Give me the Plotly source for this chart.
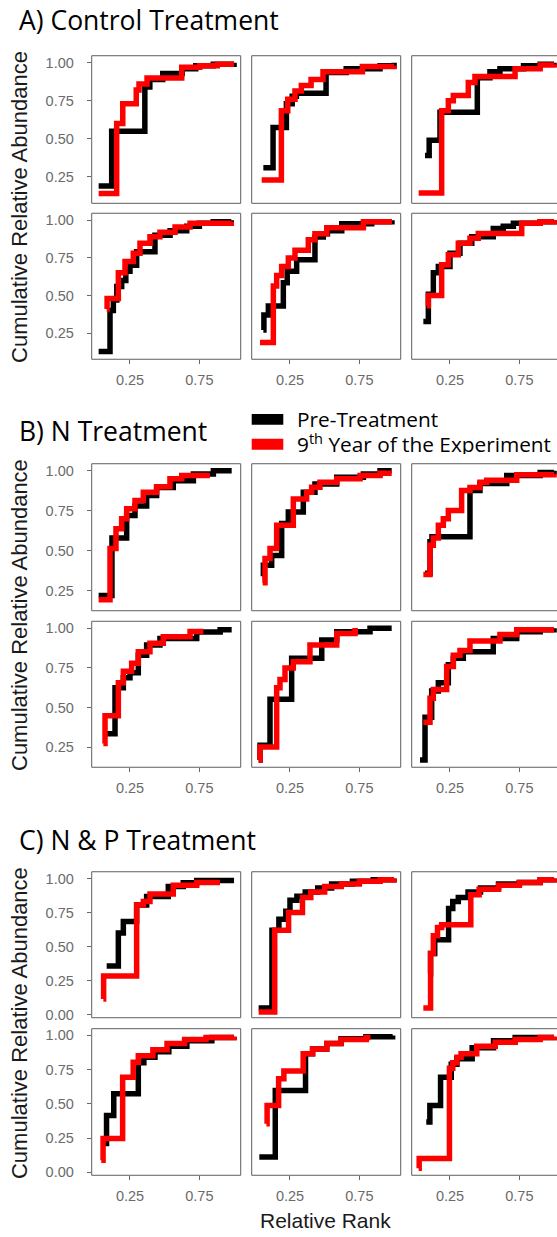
import plotly.graph_objects as go

# ---------------- data (relative rank, cumulative relative abundance) ----------------
# Section A: Control
ctrl_pre_rank = [
    [0.024, 0.118, 0.357, 0.393, 0.486, 0.626, 0.724, 0.85, 1.0],
    [0.058, 0.128, 0.224, 0.266, 0.296, 0.51, 0.655, 0.899, 1.0],
    [0.07, 0.10, 0.178, 0.447, 0.538, 0.61, 0.78, 0.90, 1.0],
    [0.024, 0.106, 0.13, 0.155, 0.19, 0.22, 0.25, 0.298, 0.43, 0.539, 0.659, 0.75, 0.85, 0.98],
    [0.058, 0.062, 0.094, 0.202, 0.23, 0.298, 0.43, 0.49, 0.52, 0.623, 0.839, 0.985],
    [0.058, 0.094, 0.13, 0.166, 0.25, 0.322, 0.407, 0.562, 0.634, 0.707, 0.90, 1.0],
]
ctrl_pre_cum = [
    [0.19, 0.55, 0.84, 0.89, 0.93, 0.96, 0.98, 0.99, 1.0],
    [0.31, 0.575, 0.73, 0.78, 0.80, 0.935, 0.96, 0.98, 1.0],
    [0.39, 0.49, 0.674, 0.902, 0.94, 0.96, 0.98, 0.99, 1.0],
    [0.127, 0.40, 0.47, 0.56, 0.60, 0.66, 0.70, 0.79, 0.90, 0.93, 0.96, 0.98, 0.99, 1.0],
    [0.27, 0.37, 0.43, 0.585, 0.66, 0.737, 0.889, 0.91, 0.93, 0.977, 0.99, 1.0],
    [0.327, 0.508, 0.65, 0.693, 0.78, 0.846, 0.89, 0.944, 0.96, 0.98, 0.99, 1.0],
]
ctrl_post_rank = [
    [0.024, 0.154, 0.198, 0.295, 0.315, 0.373, 0.623, 0.753, 0.879, 1.0],
    [0.046, 0.188, 0.234, 0.286, 0.332, 0.402, 0.488, 0.772, 1.0],
    [0.024, 0.19, 0.238, 0.274, 0.382, 0.43, 0.719, 0.90, 1.0],
    [0.082, 0.085, 0.166, 0.214, 0.274, 0.322, 0.394, 0.466, 0.575, 0.683, 0.98],
    [0.034, 0.13, 0.154, 0.19, 0.238, 0.286, 0.382, 0.43, 0.515, 0.779, 0.985],
    [0.082, 0.094, 0.19, 0.238, 0.31, 0.394, 0.454, 0.767, 0.90, 1.0],
]
ctrl_post_cum = [
    [0.14, 0.60, 0.73, 0.82, 0.86, 0.90, 0.97, 0.98, 0.99, 0.99],
    [0.23, 0.685, 0.76, 0.815, 0.85, 0.89, 0.94, 0.975, 0.98],
    [0.144, 0.685, 0.75, 0.785, 0.87, 0.91, 0.96, 0.985, 0.99],
    [0.41, 0.48, 0.65, 0.726, 0.78, 0.846, 0.89, 0.92, 0.955, 0.98, 0.99],
    [0.188, 0.562, 0.632, 0.693, 0.748, 0.80, 0.87, 0.91, 0.95, 0.99, 0.99],
    [0.432, 0.50, 0.704, 0.77, 0.846, 0.88, 0.911, 0.98, 0.99, 1.0],
]

# Section B: N
n_pre_rank = [
    [0.024, 0.12, 0.226, 0.286, 0.37, 0.442, 0.562, 0.707, 0.851, 0.983],
    [0.053, 0.058, 0.118, 0.19, 0.238, 0.346, 0.43, 0.587, 0.779, 0.899, 0.983],
    [0.07, 0.106, 0.12, 0.394, 0.466, 0.659, 0.90, 1.0],
    [0.058, 0.142, 0.202, 0.25, 0.31, 0.37, 0.466, 0.731, 0.90, 0.983],
    [0.024, 0.034, 0.106, 0.262, 0.479, 0.587, 0.827, 0.983],
    [0.034, 0.07, 0.118, 0.166, 0.238, 0.274, 0.346, 0.562, 0.731, 0.90, 1.0],
]
n_pre_cum = [
    [0.22, 0.58, 0.72, 0.78, 0.845, 0.895, 0.937, 0.98, 1.0, 1.0],
    [0.34, 0.41, 0.47, 0.67, 0.742, 0.866, 0.917, 0.96, 0.98, 1.0, 1.0],
    [0.359, 0.556, 0.587, 0.876, 0.92, 0.97, 0.99, 1.0],
    [0.336, 0.626, 0.688, 0.72, 0.83, 0.895, 0.936, 0.977, 0.99, 0.99],
    [0.17, 0.264, 0.553, 0.812, 0.926, 0.978, 1.0, 1.0],
    [0.17, 0.44, 0.605, 0.657, 0.77, 0.812, 0.852, 0.936, 0.978, 0.99, 1.0],
]
n_post_rank = [
    [0.024, 0.106, 0.149, 0.19, 0.226, 0.286, 0.346, 0.442, 0.538, 0.623, 0.826],
    [0.053, 0.07, 0.106, 0.154, 0.274, 0.37, 0.406, 0.466, 0.587, 0.755, 0.899, 0.983],
    [0.058, 0.106, 0.13, 0.166, 0.202, 0.238, 0.334, 0.394, 0.466, 0.515, 0.731, 1.0],
    [0.058, 0.07, 0.166, 0.202, 0.262, 0.31, 0.394, 0.49, 0.683, 0.779],
    [0.024, 0.034, 0.154, 0.178, 0.214, 0.274, 0.394, 0.587, 0.719, 0.74],
    [0.058, 0.106, 0.13, 0.226, 0.274, 0.322, 0.394, 0.61, 0.731, 1.0],
]
n_post_cum = [
    [0.193, 0.514, 0.638, 0.70, 0.762, 0.814, 0.866, 0.90, 0.95, 0.97, 0.97],
    [0.30, 0.452, 0.514, 0.659, 0.824, 0.866, 0.897, 0.928, 0.95, 0.97, 0.985, 0.985],
    [0.352, 0.535, 0.58, 0.659, 0.70, 0.752, 0.876, 0.896, 0.928, 0.94, 0.975, 0.98],
    [0.274, 0.45, 0.657, 0.73, 0.78, 0.852, 0.905, 0.946, 0.98, 0.98],
    [0.17, 0.253, 0.626, 0.678, 0.75, 0.79, 0.895, 0.967, 0.985, 0.985],
    [0.408, 0.56, 0.615, 0.76, 0.83, 0.86, 0.92, 0.96, 0.99, 0.99],
]

# Section C: N & P
np_pre_rank = [
    [0.082, 0.166, 0.202, 0.298, 0.37, 0.526, 0.634, 0.731, 1.0],
    [0.024, 0.12, 0.17, 0.22, 0.25, 0.30, 0.36, 0.45, 0.55, 0.70, 0.85, 1.0],
    [0.10, 0.11, 0.14, 0.24, 0.27, 0.31, 0.38, 0.47, 0.60, 0.75, 0.90, 1.0],
    [0.068, 0.081, 0.133, 0.31, 0.35, 0.43, 0.53, 0.66, 0.84, 1.0],
    [0.029, 0.144, 0.362, 0.413, 0.515, 0.618, 0.797, 0.99],
    [0.079, 0.105, 0.182, 0.259, 0.30, 0.41, 0.564, 0.72, 1.0],
]
np_pre_cum = [
    [0.357, 0.60, 0.685, 0.806, 0.867, 0.94, 0.969, 0.985, 0.985],
    [0.05, 0.62, 0.70, 0.76, 0.84, 0.87, 0.90, 0.93, 0.96, 0.98, 0.99, 1.0],
    [0.30, 0.45, 0.55, 0.78, 0.83, 0.86, 0.90, 0.93, 0.96, 0.97, 0.99, 1.0],
    [0.21, 0.415, 0.573, 0.80, 0.84, 0.88, 0.92, 0.96, 0.985, 0.99],
    [0.112, 0.597, 0.865, 0.90, 0.94, 0.975, 0.99, 1.0],
    [0.367, 0.488, 0.694, 0.79, 0.83, 0.91, 0.96, 0.985, 0.99],
]
np_post_rank = [
    [0.058, 0.06, 0.298, 0.346, 0.394, 0.562, 0.731, 0.899],
    [0.024, 0.14, 0.24, 0.34, 0.40, 0.50, 0.62, 0.75, 0.90, 1.0],
    [0.058, 0.11, 0.13, 0.16, 0.19, 0.40, 0.46, 0.60, 0.75, 0.90, 1.0],
    [0.043, 0.056, 0.197, 0.273, 0.31, 0.415, 0.517, 0.644, 0.798, 1.0],
    [0.08, 0.085, 0.168, 0.206, 0.345, 0.413, 0.515, 0.618, 0.80, 0.83],
    [0.024, 0.028, 0.246, 0.27, 0.30, 0.33, 0.443, 0.576, 0.72, 0.90, 1.0],
]
np_post_cum = [
    [0.115, 0.284, 0.806, 0.83, 0.886, 0.95, 0.97, 0.97],
    [0.02, 0.62, 0.75, 0.86, 0.90, 0.94, 0.96, 0.98, 0.99, 1.0],
    [0.05, 0.45, 0.58, 0.64, 0.66, 0.88, 0.92, 0.95, 0.97, 0.99, 1.0],
    [0.088, 0.246, 0.694, 0.804, 0.852, 0.895, 0.94, 0.97, 0.985, 0.99],
    [0.355, 0.488, 0.683, 0.74, 0.865, 0.90, 0.94, 0.97, 0.985, 0.985],
    [0.03, 0.10, 0.76, 0.80, 0.84, 0.865, 0.92, 0.95, 0.97, 0.985, 0.99],
]

section_titles = ["A) Control Treatment", "B) N Treatment", "C) N & P Treatment"]
series_names = ["Pre-Treatment", "9<sup>th</sup> Year of the Experiment"]
x_tickvals = [0.25, 0.75]
y_tickvals_AB = [0.25, 0.50, 0.75, 1.00]
y_tickvals_C = [0.00, 0.25, 0.50, 0.75, 1.00]

# ---------------- layout geometry (pixels) ----------------
W, H = 557, 1237
col_left = [91.7, 251.7, 411.7]
panel_w = 149.0
rows_px = [
    [(55.0, 203.3), (213.3, 360.0)],
    [(465.0, 612.7), (623.3, 770.0)],
    [(875.0, 1021.7), (1032.7, 1180.0)],
]
y_ranges = [[0.076, 1.046], [0.125, 1.044], [-0.022, 1.049]]
x_range_full = [-0.026, 1.048]
px_per_unit = panel_w / (x_range_full[1] - x_range_full[0])

sections = [
    (ctrl_pre_rank, ctrl_pre_cum, ctrl_post_rank, ctrl_post_cum),
    (n_pre_rank, n_pre_cum, n_post_rank, n_post_cum),
    (np_pre_rank, np_pre_cum, np_post_rank, np_post_cum),
]

BLACK = "#000000"
RED = "#ff0000"
TICK_FONT = dict(family="Liberation Sans, Arial", size=14.5, color="#6b6b6b")
BORDER = "#5e5e5e"

fig = go.Figure()
layout = dict(
    width=W, height=H, margin=dict(l=0, r=0, t=0, b=0),
    paper_bgcolor="white", plot_bgcolor="white", showlegend=False,
)
shapes = []
annotations = []

def px2x(p):
    return p / W

def px2y(p):
    return 1 - p / H

idx = 0
for s, (pre_r, pre_c, post_r, post_c) in enumerate(sections):
    for r in range(2):
        for c in range(3):
            p = r * 3 + c
            idx += 1
            xa = "x" if idx == 1 else f"x{idx}"
            ya = "y" if idx == 1 else f"y{idx}"
            fig.add_trace(go.Scatter(
                x=pre_r[p], y=pre_c[p], mode="lines", line_shape="hv",
                line=dict(color=BLACK, width=5.5), xaxis=xa, yaxis=ya,
                name="Pre-Treatment", hoverinfo="skip"))
            fig.add_trace(go.Scatter(
                x=post_r[p], y=post_c[p], mode="lines", line_shape="hv",
                line=dict(color=RED, width=5.5), xaxis=xa, yaxis=ya,
                name="9th Year of the Experiment", hoverinfo="skip"))

            x0 = col_left[c]
            x1 = min(x0 + panel_w, W)
            top, bot = rows_px[s][r]
            xr_max = x_range_full[0] + (x1 - x0) / px_per_unit
            xkey = "xaxis" if idx == 1 else f"xaxis{idx}"
            ykey = "yaxis" if idx == 1 else f"yaxis{idx}"
            bottom_row = (r == 1)
            first_col = (c == 0)
            layout[xkey] = dict(
                domain=[px2x(x0), px2x(x1)], range=[x_range_full[0], xr_max],
                anchor=ya, showgrid=False, zeroline=False, showline=False,
                ticks="outside" if bottom_row else "", ticklen=4, tickwidth=1,
                tickcolor="#666666", tickvals=x_tickvals,
                ticktext=["%.2f" % v for v in x_tickvals],
                showticklabels=bottom_row, tickfont=TICK_FONT, fixedrange=True,
                ticklabelstandoff=3,
            )
            yt = y_tickvals_C if s == 2 else y_tickvals_AB
            layout[ykey] = dict(
                domain=[px2y(bot), px2y(top)], range=y_ranges[s],
                anchor=xa, showgrid=False, zeroline=False, showline=False,
                ticks="outside" if first_col else "", ticklen=4, tickwidth=1,
                tickcolor="#666666", tickvals=yt,
                ticktext=["%.2f" % v for v in yt],
                showticklabels=first_col, tickfont=TICK_FONT, fixedrange=True,
                ticklabelstandoff=10,
            )
            shapes.append(dict(
                type="rect", xref="paper", yref="paper",
                x0=px2x(x0), x1=px2x(x0 + panel_w), y0=px2y(bot), y1=px2y(top),
                line=dict(color=BORDER, width=1), fillcolor="rgba(0,0,0,0)",
                layer="above"))

# section titles
title_y = [19, 432, 843]
for t, yy in zip(section_titles, title_y):
    annotations.append(dict(
        text=t, x=px2x(17), y=px2y(yy), xref="paper", yref="paper",
        xanchor="left", yanchor="middle", showarrow=False,
        font=dict(family="Open Sans", size=26.5, color="#000000")))

# y axis titles
for s in range(3):
    top = rows_px[s][0][0]
    bot = rows_px[s][1][1]
    annotations.append(dict(
        text="Cumulative Relative Abundance", x=px2x(19.5), y=px2y((top + bot) / 2),
        xref="paper", yref="paper", xanchor="center", yanchor="middle",
        textangle=-90, showarrow=False,
        font=dict(family="Liberation Sans, Arial", size=22, color="#1a1a1a")))

# x axis title
annotations.append(dict(
    text="Relative Rank", x=px2x(325), y=px2y(1225), xref="paper", yref="paper",
    xanchor="center", yanchor="middle", showarrow=False,
    font=dict(family="Liberation Sans, Arial", size=21, color="#1a1a1a")))

# legend (manual keys)
legend_rows = [(BLACK, 415.0, 425.7, 420.5), (RED, 440.0, 451.0, 444.0)]
for (col, y0, y1, yc), name in zip(legend_rows, series_names):
    shapes.append(dict(
        type="rect", xref="paper", yref="paper",
        x0=px2x(251.7), x1=px2x(283.3), y0=px2y(y1), y1=px2y(y0),
        line=dict(width=0), fillcolor=col))
    annotations.append(dict(
        text=name, x=px2x(295), y=px2y(yc), xref="paper", yref="paper",
        xanchor="left", yanchor="middle", showarrow=False, height=22,
        font=dict(family="Open Sans", size=20.8, color="#000000")))

layout["shapes"] = shapes
layout["annotations"] = annotations
fig.update_layout(**layout)
fig.write_html(
    "out.html",
    config={"displayModeBar": False, "staticPlot": True},
    post_script="document.body.style.margin='0px';document.body.style.padding='0px';",
)
